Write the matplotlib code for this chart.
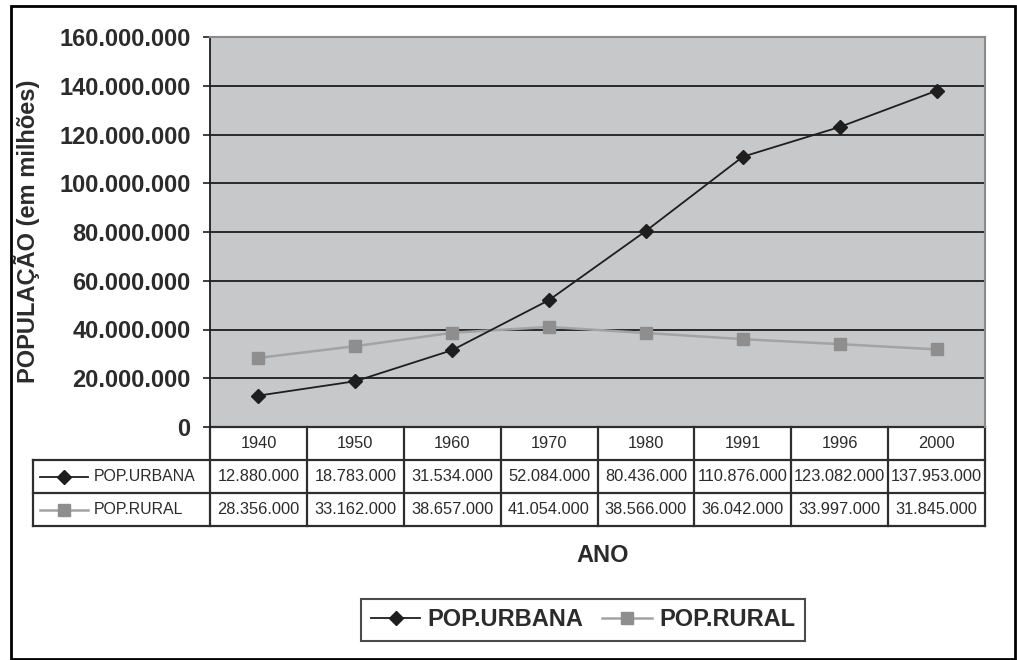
import matplotlib
matplotlib.use('Agg')
import matplotlib.pyplot as plt
import matplotlib.transforms as mtrans
from matplotlib.lines import Line2D
from matplotlib.patches import Rectangle
from matplotlib import font_manager as fm

anos = ['1940', '1950', '1960', '1970', '1980', '1991', '1996', '2000']
pop_urbana = [12880000, 18783000, 31534000, 52084000, 80436000, 110876000, 123082000, 137953000]
pop_rural = [28356000, 33162000, 38657000, 41054000, 38566000, 36042000, 33997000, 31845000]
series_names = ['POP.URBANA', 'POP.RURAL']
yticks = [0, 20000000, 40000000, 60000000, 80000000, 100000000, 120000000, 140000000, 160000000]


def fmt(v):
    return f"{v:,}".replace(',', '.')


names = {f.name for f in fm.fontManager.ttflist}
MAIN = 'Liberation Sans' if 'Liberation Sans' in names else 'DejaVu Sans'
plt.rcParams['font.family'] = MAIN

TXT = '#2b2b2b'
BIG = 17
SMALL = 11.8
W, H = 1017, 660
fig = plt.figure(figsize=(W / 100, H / 100), dpi=100)


def fx(px):
    return px / W


def fy(py):
    return 1 - py / H


# outer border
fig.patches.append(Rectangle((fx(11), fy(659)), fx(1015) - fx(11), fy(6) - fy(659),
                             transform=fig.transFigure, fill=False, ec='black', lw=2))

ax_l, ax_r, ax_t, ax_b = 210, 985, 37, 427
ax = fig.add_axes([fx(ax_l), fy(ax_b), fx(ax_r) - fx(ax_l), fy(ax_t) - fy(ax_b)])
ax.set_facecolor('#c7c8ca')
xs = list(range(len(anos)))
ax.plot(xs, pop_urbana, color='#1e1e1e', marker='D', ms=7, lw=1.3, zorder=4,
        label=series_names[0])
ax.plot(xs, pop_rural, color='#a3a3a3', marker='s', ms=9, mfc='#8e8e8e', mec='#8e8e8e',
        lw=1.8, zorder=3, label=series_names[1])
ax.set_xlim(-0.5, len(anos) - 0.5)
ax.set_ylim(0, 160000000)
ax.set_yticks(yticks)
ax.set_yticklabels([fmt(v) for v in yticks], fontweight='bold', fontsize=BIG, color=TXT)
ax.set_xticks([])
ax.tick_params(axis='y', length=5, width=1.2, color='#1e1e1e', pad=9)
ax.grid(axis='y', color='#1e1e1e', lw=1.3)
ax.set_axisbelow(True)
for s in ['top', 'right']:
    ax.spines[s].set_color('#8a8a8a')
    ax.spines[s].set_linewidth(1.5)
ax.spines['left'].set_color('#1e1e1e')
ax.spines['left'].set_linewidth(1.3)
ax.spines['bottom'].set_visible(False)

fig.text(fx(27), fy(231), 'POPULAÇÃO (em milhões)', rotation=90, ha='center', va='center',
         fontweight='bold', fontsize=BIG, color=TXT)

# table under the axes
tr = mtrans.blended_transform_factory(ax.transData, ax.transAxes)
axh = ax_b - ax_t
upx = (ax_r - ax_l) / len(anos)


def ya(py):
    return (ax_b - py) / axh


def xd(px):
    return (px - ax_l) / upx - 0.5


row_y = [427, 460, 493, 526]
lc = '#2e2e2e'
lw = 1.6
n = len(anos)
ax.add_line(Line2D([-0.5, n - 0.5], [ya(row_y[0])] * 2, transform=tr, color=lc, lw=lw, clip_on=False))
for py in row_y[1:]:
    ax.add_line(Line2D([xd(33), n - 0.5], [ya(py)] * 2, transform=tr, color=lc, lw=lw, clip_on=False))
for i in range(n + 1):
    ax.add_line(Line2D([i - 0.5, i - 0.5], [ya(row_y[0]), ya(row_y[-1])], transform=tr,
                       color=lc, lw=lw, clip_on=False))
ax.add_line(Line2D([xd(33), xd(33)], [ya(row_y[1]), ya(row_y[-1])], transform=tr,
                   color=lc, lw=lw, clip_on=False))

for i, a in enumerate(anos):
    ax.text(i, ya((row_y[0] + row_y[1]) / 2), a, transform=tr, ha='center', va='center',
            fontsize=SMALL, color=TXT)
    ax.text(i, ya((row_y[1] + row_y[2]) / 2), fmt(pop_urbana[i]), transform=tr, ha='center',
            va='center', fontsize=SMALL, color=TXT)
    ax.text(i, ya((row_y[2] + row_y[3]) / 2), fmt(pop_rural[i]), transform=tr, ha='center',
            va='center', fontsize=SMALL, color=TXT)

keys = [dict(color='#1e1e1e', marker='D', ms=7, lw=1.3, mfc='#1e1e1e', mec='#1e1e1e'),
        dict(color='#a3a3a3', marker='s', ms=9, lw=1.8, mfc='#8e8e8e', mec='#8e8e8e')]
for r, (name, k) in enumerate(zip(series_names, keys)):
    yc = ya((row_y[r + 1] + row_y[r + 2]) / 2)
    ax.add_line(Line2D([xd(40), xd(88)], [yc, yc], transform=tr, clip_on=False,
                       color=k['color'], lw=k['lw']))
    ax.add_line(Line2D([xd(64)], [yc], transform=tr, clip_on=False, marker=k['marker'],
                       ms=k['ms'], mfc=k['mfc'], mec=k['mec'], ls='none'))
    ax.text(xd(94), yc, name, transform=tr, ha='left', va='center', fontsize=SMALL - 0.4,
            color=TXT)

fig.text(fx(603), fy(555), 'ANO', ha='center', va='center', fontweight='bold',
         fontsize=BIG, color=TXT)

leg = fig.legend(loc='center', bbox_to_anchor=(fx(583), fy(620)), ncol=2, frameon=True,
                 fancybox=False, edgecolor='#1e1e1e', handlelength=2.1, columnspacing=0.8,
                 handletextpad=0.3, borderpad=0.4, borderaxespad=0,
                 prop={'weight': 'bold', 'size': BIG})
leg.get_frame().set_linewidth(1.5)
for t in leg.get_texts():
    t.set_color(TXT)

fig.savefig('out.png', dpi=100)
